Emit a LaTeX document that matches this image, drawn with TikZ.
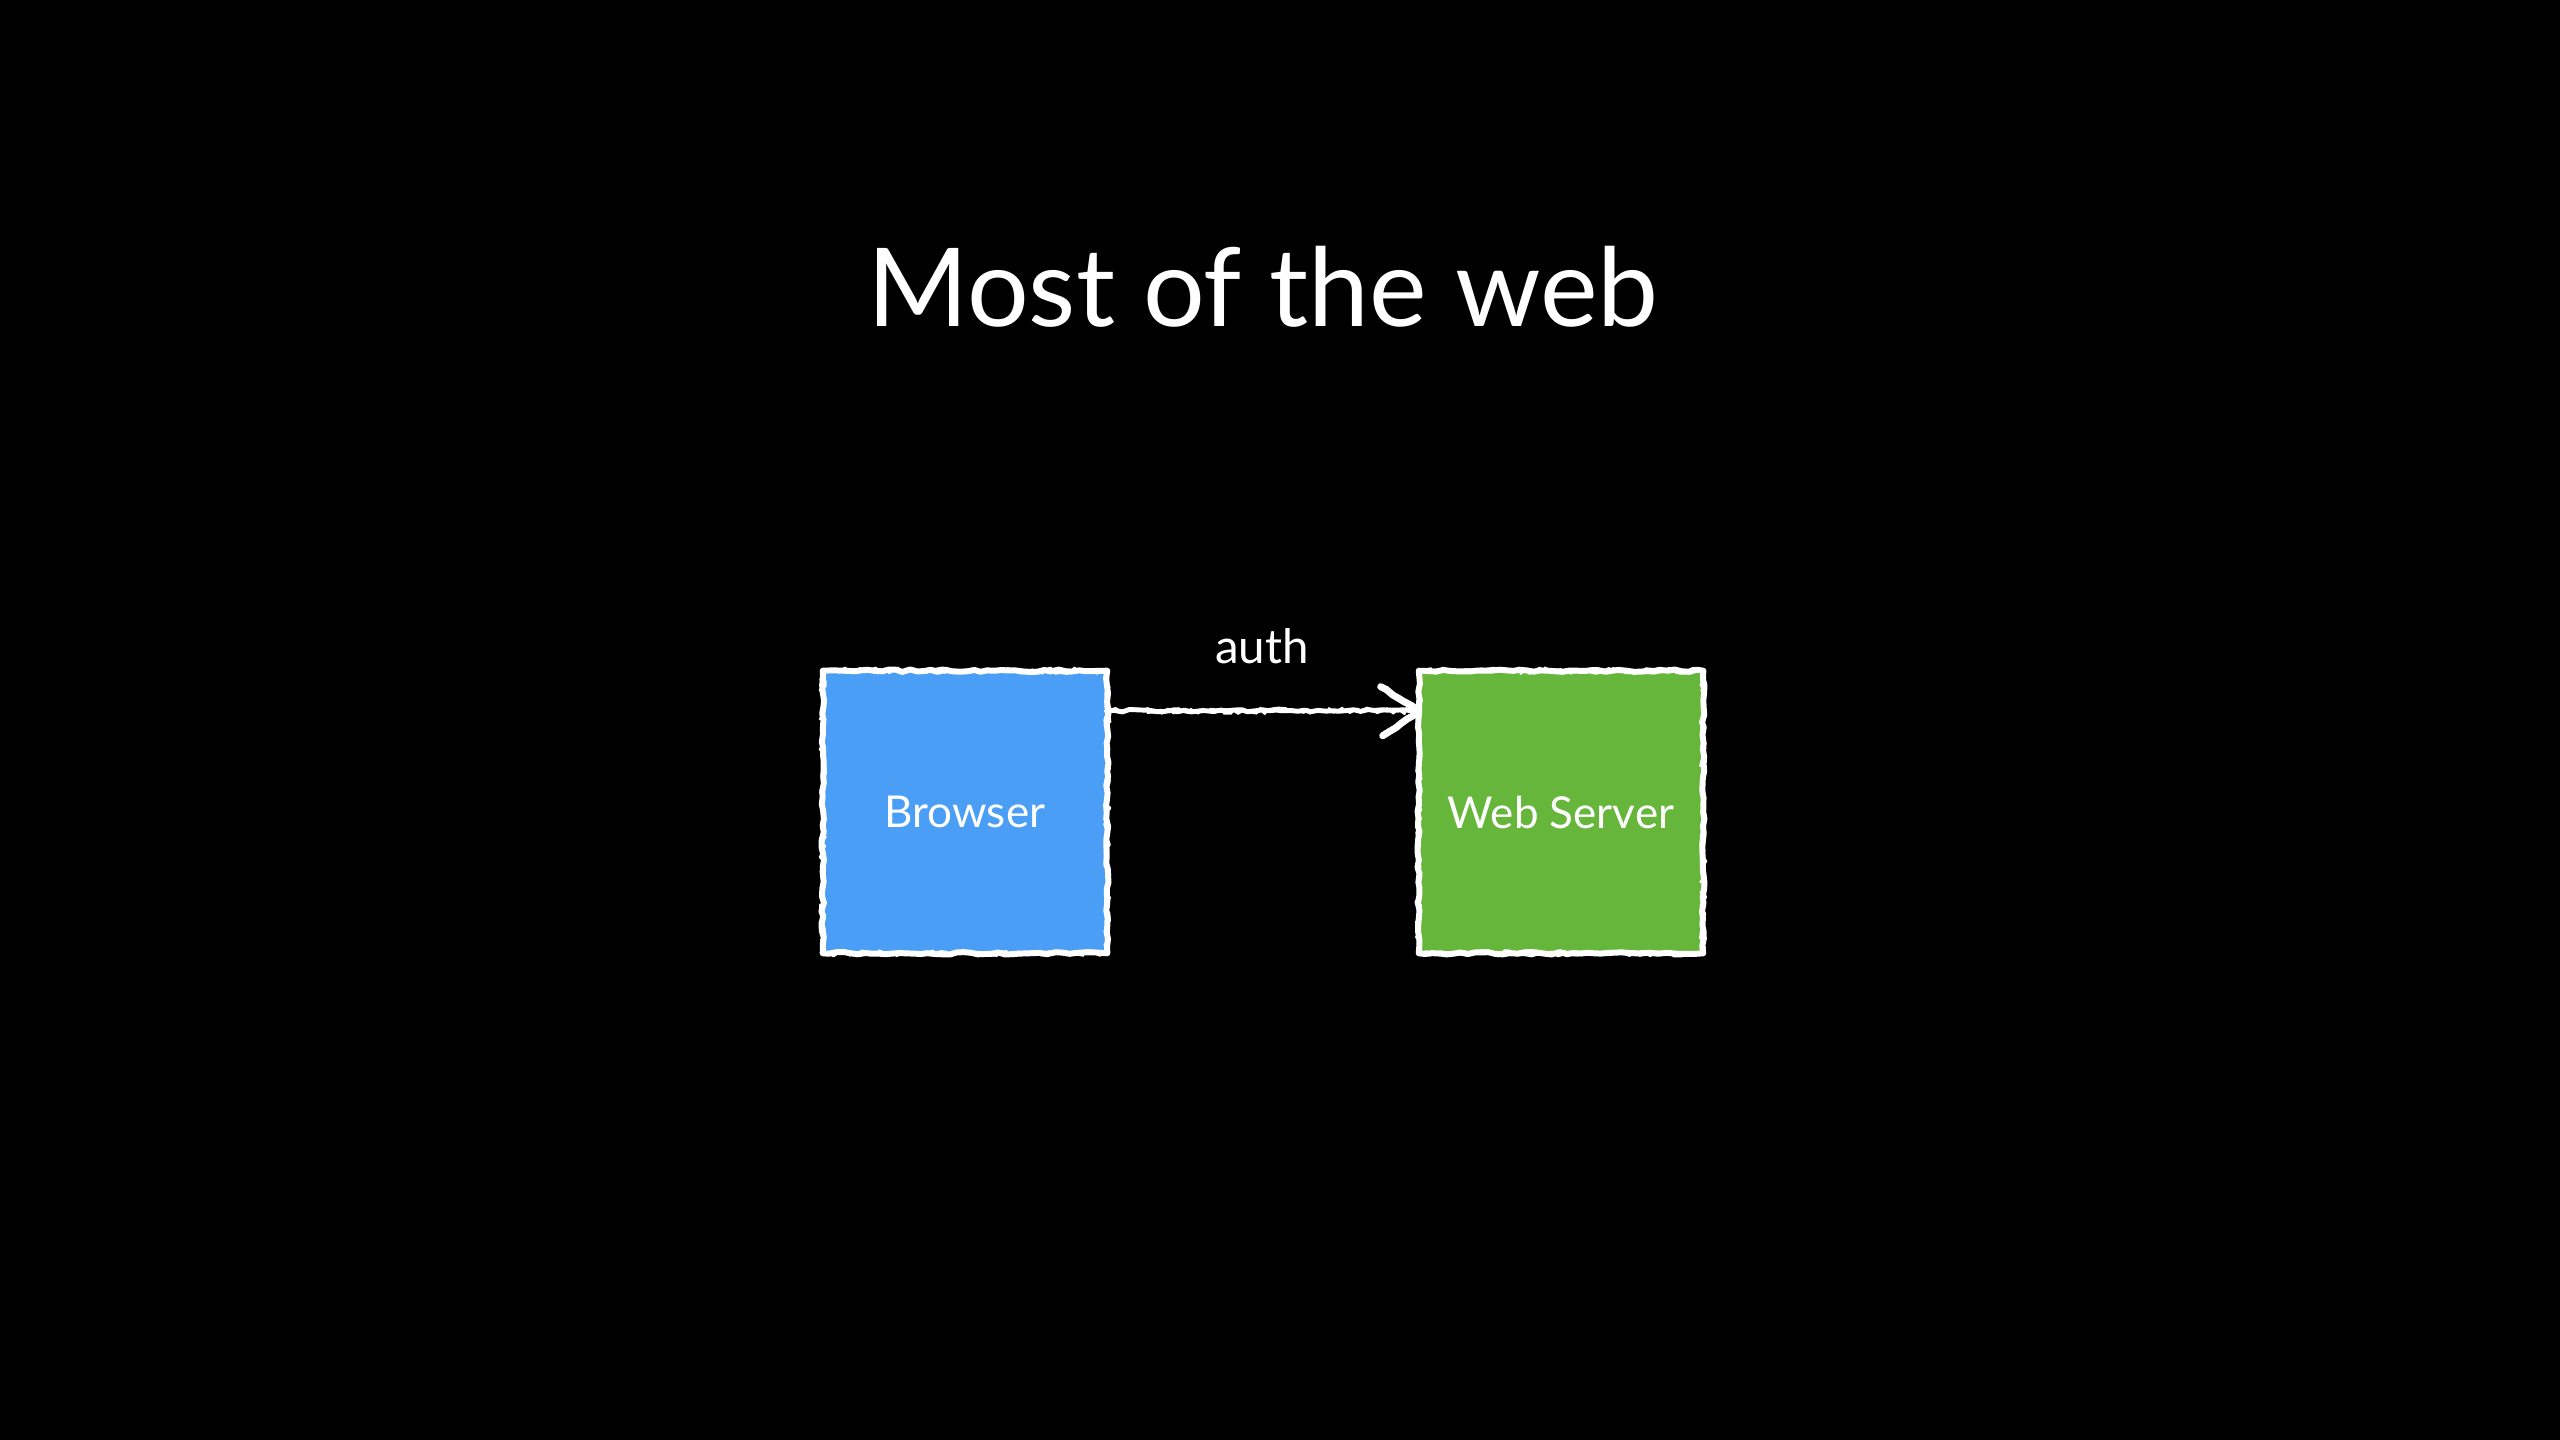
\documentclass[tikz,border=0pt]{standalone}
\usepackage{fontspec}
\setmainfont{Lato}
\usetikzlibrary{decorations.pathmorphing,calc}
\definecolor{browserblue}{RGB}{74,158,245}
\definecolor{servergreen}{RGB}{102,182,60}
\begin{document}
\begin{tikzpicture}[x=0.01cm,y=-0.01cm,
  titletext/.style={text=white, font=\fontsize{31pt}{36pt}\selectfont, anchor=base, inner sep=0pt},
  edgelabel/.style={text=white, font=\fontsize{13.5pt}{16pt}\selectfont, anchor=base, inner sep=0pt},
  boxnode/.style={minimum width=2.83cm, minimum height=2.81cm, inner sep=0pt,
    text=white, font=\fontsize{12.5pt}{15pt}\selectfont},
  chalkbase/.style={draw=white, line width=1.7pt, line join=round, line cap=round,
    decorate, decoration={random steps, segment length=2pt, amplitude=0.35pt}},
  chalkgrain/.style={draw=white, line width=0.6pt, line join=round,
    decorate, decoration={random steps, segment length=1.2pt, amplitude=0.9pt}},
  chalkline/.style={draw=white, line width=1.4pt, line join=round, line cap=round,
    decorate, decoration={random steps, segment length=2pt, amplitude=0.35pt}},
  chalkhead/.style={draw=white, line width=2pt, line join=round, line cap=round,
    decorate, decoration={random steps, segment length=2pt, amplitude=0.3pt}}]
\pgfmathsetseed{7}
% background, fixes the page size
\fill[black] (0,0) rectangle (2560,1440);

% heading
\node[titletext] (title) at (1263,327) {Most of the web};

% the two boxes
\node[boxnode, fill=browserblue] (browser) at (965,812) {Browser};
\node[boxnode, fill=servergreen] (server) at (1561,812) {Web Server};

% chalky outlines
\foreach \b in {browser,server}{
  \draw[chalkbase] (\b.north west) rectangle (\b.south east);
  \draw[chalkgrain] (\b.north west) rectangle (\b.south east);
}

% connector with open chevron head
\coordinate (tail) at ([yshift=-0.40cm]browser.north east);
\coordinate (tip) at ([yshift=-0.40cm]server.north west);
\draw[chalkline] (tail) -- ($(tip)+(-6,0)$);
\draw[chalkgrain] (tail) -- ($(tip)+(-6,0)$);
\draw[chalkhead] ($(tip)+(-38,-24)$) -- (tip) -- ($(tip)+(-36,25)$);

% connector label
\node[edgelabel] (auth) at (1262,664) {auth};
\end{tikzpicture}
\end{document}
